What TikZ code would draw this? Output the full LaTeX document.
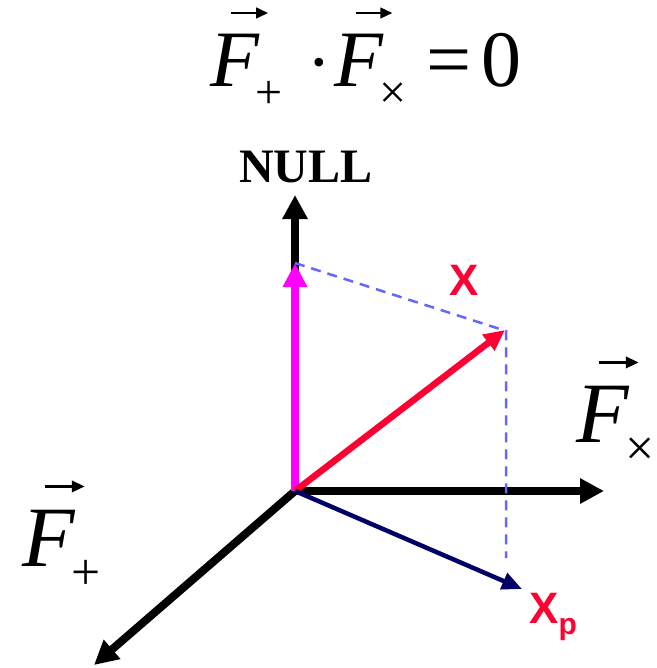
\documentclass[tikz,border=0pt]{standalone}
\usepackage{fontspec}
\setmainfont{Liberation Serif}
\newfontfamily\labelsans{Liberation Sans}
\usetikzlibrary{arrows.meta}
\definecolor{nullpink}{HTML}{FF00FF}
\definecolor{sigred}{HTML}{FF0033}
\definecolor{projnavy}{HTML}{000066}
\definecolor{guideblue}{HTML}{6666FF}
%% F with an arrow over it and a lowered index
\newcommand{\fvec}[1]{\makebox[0pt][l]{\hspace{0.25em}\raisebox{0.86em}{\tikz\draw[line width=0.034em, -{Triangle[length=0.15em, width=0.13em]}] (0,0) -- (0.46em,0);}}\textit{F}\kern-0.05em\raisebox{-0.27em}{\scalebox{0.6}{#1}}}

\begin{document}
\begin{tikzpicture}[
  x=1pt, y=-1pt,
  axis/.style={line width=8pt, -{Triangle[length=24pt, width=24pt]}},
  guide/.style={draw=guideblue, line width=2.5pt, dash pattern=on 10pt off 7pt},
  eqn/.style={font=\fontsize{80}{88}\selectfont, inner sep=0pt},
  axlbl/.style={font=\fontsize{86}{96}\selectfont, inner sep=0pt},
  siglbl/.style={font=\labelsans\bfseries\fontsize{44}{50}\selectfont,
    text=sigred, inner sep=0pt}
]
\useasboundingbox (0,0) rectangle (656,668);

%% origin at (295,491), y runs downwards as in the sketch
\coordinate (O) at (295,491);
\coordinate (null_tip) at (295,195);
\coordinate (cross_tip) at (604,491);
\coordinate (plus_tip) at (94,665);
\coordinate (null_comp) at (295,263);
\coordinate (sig_tip) at (505,330);
\coordinate (sig_corner) at (506,331);
\coordinate (proj_foot) at (506,558);
\coordinate (proj_tip) at (522,589);

%% ─── TITLE ───
\node[eqn, anchor=base] (title) at (366,87)
  {\fvec{+}\hspace{30pt}\raisebox{12pt}{\scalebox{0.45}{•}}\hspace{9pt}\fvec{×}\hspace{20pt}=\hspace{10pt}0};

%% ─── AXES ───
\draw[axis] (O) -- (null_tip);
\draw[axis] (O) -- (cross_tip);
\draw[axis] (O) -- (plus_tip);

\node[font=\bfseries\fontsize{48}{54}\selectfont, inner sep=0pt, anchor=base]
  (null_lbl) at (306,183) {NULL};
\node[axlbl, anchor=base west] (cross_lbl) at (576,442) {\fvec{×}};
\node[axlbl, anchor=base west] (plus_lbl) at (22,566) {\fvec{+}};

%% ─── DASHED GUIDES (drawn first, vectors on top) ───
\draw[guide] (null_comp) -- (sig_corner) -- (proj_foot);

%% ─── VECTORS ───
\draw[nullpink, line width=8pt, -{Triangle[length=24pt, width=23pt]}]
  (O) -- (null_comp);
\draw[sigred, line width=6.5pt, -{Triangle[length=21pt, width=19pt]}]
  (O) -- (sig_tip);
\draw[projnavy, line width=4.5pt, -{Triangle[length=20pt, width=17pt]}]
  (O) -- (proj_tip);

\node[siglbl] (sig_lbl) at (464,280) {X};
\node[siglbl, anchor=base west] (proj_lbl) at (529,623)
  {X\raisebox{-0.25em}{\fontsize{30}{34}\selectfont p}};

\end{tikzpicture}
\end{document}
